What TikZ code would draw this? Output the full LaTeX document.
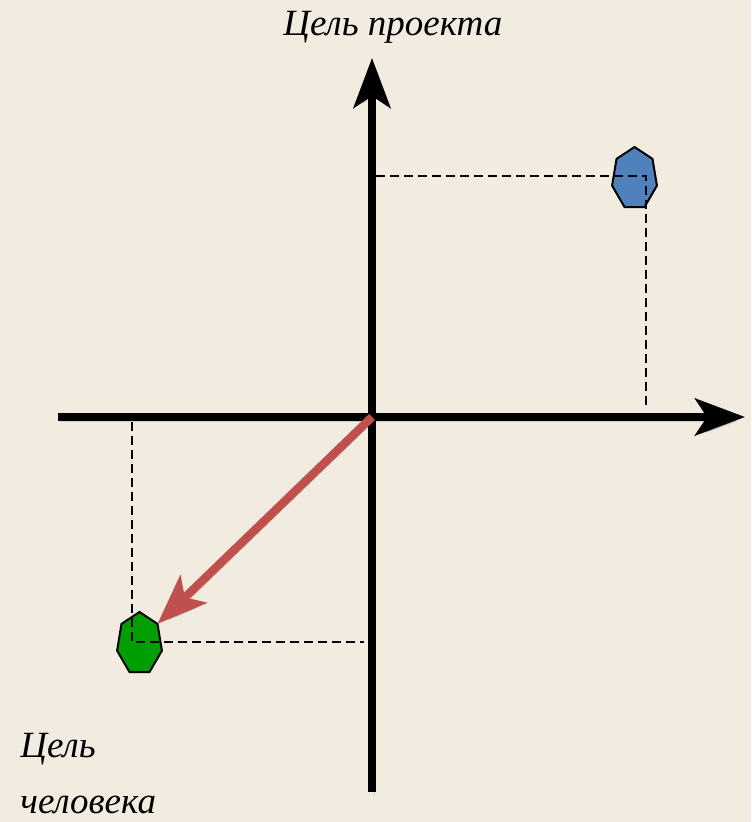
\documentclass[tikz,border=0pt]{standalone}
\usepackage{fontspec}
\setmainfont{Liberation Serif}
\usepackage{xcolor}
\usetikzlibrary{arrows.meta,calc}

\definecolor{paper}{RGB}{242,236,224}
\definecolor{hexblue}{RGB}{79,129,189}
\definecolor{hexgreen}{RGB}{0,158,0}
\definecolor{arrred}{RGB}{192,80,77}

\begin{document}
\begin{tikzpicture}[
  x=0.5pt, y=-0.5pt,
  shade/.style = {preaction={draw=black, opacity=0.12,
                  transform canvas={shift={(1.2pt,-2pt)}}}},
  axis/.style  = {line width=3.8pt, black, shade,
                  -{Stealth[length=25pt, width=18.5pt, inset=6pt]}},
  proj/.style  = {line width=1pt, black, dash pattern=on 4.3pt off 2.7pt},
  hepta/.style = {line width=1pt, draw=black, line join=miter},
  moveto/.style= {line width=4.2pt, arrred, shade,
                  -{Stealth[length=25pt, width=19pt, inset=6pt]}},
  lbl/.style   = {font=\fontsize{18.5}{28}\selectfont\itshape, inner sep=0pt,
                  anchor=base west, align=left}
]
\useasboundingbox[fill=paper] (0,0) rectangle (751,822);

% axes
\coordinate (origin) at (372,417);
\coordinate (xstart) at (58,417);
\coordinate (xend)   at (745,417);
\coordinate (ystart) at (372,792);
\coordinate (yend)   at (372,58);

% heptagon corners
\foreach \k in {0,...,6} {
  \coordinate (b\k) at ($(634.5,178.6)+(270+\k*360/7:23 and 31.6)$);
  \coordinate (g\k) at ($(139.5,643.6)+(270+\k*360/7:23 and 31.6)$);
}
\draw[hepta, fill=hexblue]  (b0) -- (b1) -- (b2) -- (b3) -- (b4) -- (b5) -- (b6) -- cycle;
\draw[hepta, fill=hexgreen] (g0) -- (g1) -- (g2) -- (g3) -- (g4) -- (g5) -- (g6) -- cycle;

% projections
\coordinate (bpt) at (646,176);
\coordinate (gpt) at (132,642);
\coordinate (bx)  at (376,176);
\coordinate (by)  at (646,408);
\coordinate (gx)  at (132,422);
\coordinate (gy)  at (364,642);
\draw[proj] (bx) -- (bpt) -- (by);
\draw[proj] (gx) -- (gpt) -- (gy);

\draw[axis] (xstart) -- (xend);
\draw[axis] (ystart) -- (yend);
\draw[moveto] (origin) -- (g1);

\node[lbl] (project) at (283,36)  {Цель проекта};
\node[lbl] (person)  at (20,813)  {Цель\\человека};
\end{tikzpicture}
\end{document}
